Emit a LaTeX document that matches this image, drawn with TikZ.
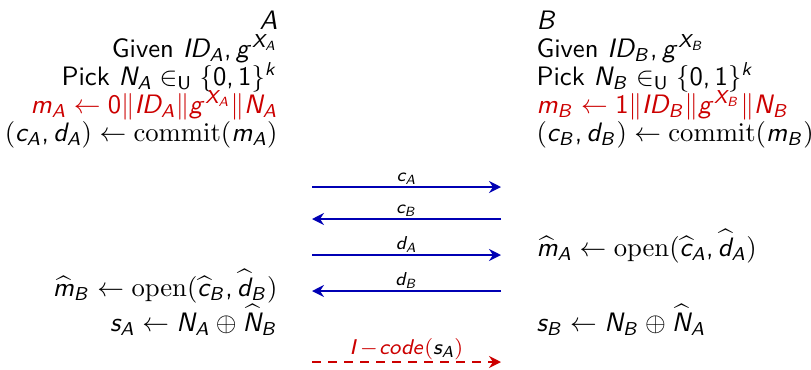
\documentclass[tikz,border=0pt]{standalone}
\usetikzlibrary{arrows.meta}
\renewcommand{\familydefault}{\sfdefault}
% sans math letters and digits, roman operator names
\DeclareSymbolFont{letters}{OT1}{cmss}{m}{sl}
\DeclareSymbolFont{sfop}{OT1}{cmss}{m}{n}
\DeclareMathSymbol{,}{\mathpunct}{sfop}{`,}
\DeclareMathSymbol{0}{\mathalpha}{sfop}{`0}
\DeclareMathSymbol{1}{\mathalpha}{sfop}{`1}
\definecolor{msgblue}{RGB}{0,0,180}
\definecolor{keyred}{RGB}{204,0,0}

\begin{document}
\begin{tikzpicture}[
        x=0.375pt, y=-0.375pt,
        leftrow/.style={anchor=base east, inner sep=0pt},
        rightrow/.style={anchor=base west, inner sep=0pt},
        msg/.style={-{Stealth[length=4.5pt, width=4.5pt, inset=1.5pt]}, thick, draw=msgblue},
        reveal/.style={-{Stealth[length=4.5pt, width=4.5pt, inset=1.5pt]}, thick, draw=keyred, dash pattern=on 3.5pt off 2.5pt},
        msglabel/.style={font=\scriptsize, above, inner sep=0.6pt}
    ]
        \useasboundingbox (0,0) rectangle (811,369);

        % party A
        \node[leftrow] (partyA) at (278,29) {$A$};
        \node[leftrow] (givenA) at (278,57) {Given $ID_A, g^{X_A}$};
        \node[leftrow] (pickA) at (278,85) {Pick $N_A \in_{\mathsf{U}} \{0,1\}^k$};
        \node[leftrow, text=keyred] (msgA) at (278,113) {$m_A \leftarrow 0\|ID_A\|g^{X_A}\|N_A$};
        \node[leftrow] (commitA) at (278,141) {$(c_A, d_A) \leftarrow \mathrm{commit}(m_A)$};
        \node[leftrow] (openA) at (278,296) {$\widehat{m}_B \leftarrow \mathrm{open}(\widehat{c}_B, \widehat{d}_B)$};
        \node[leftrow] (keyA) at (278,331) {$s_A \leftarrow N_A \oplus \widehat{N}_B$};

        % party B
        \node[rightrow] (partyB) at (536,29) {$B$};
        \node[rightrow] (givenB) at (536,57) {Given $ID_B, g^{X_B}$};
        \node[rightrow] (pickB) at (536,85) {Pick $N_B \in_{\mathsf{U}} \{0,1\}^k$};
        \node[rightrow, text=keyred] (msgB) at (536,113) {$m_B \leftarrow 1\|ID_B\|g^{X_B}\|N_B$};
        \node[rightrow] (commitB) at (536,141) {$(c_B, d_B) \leftarrow \mathrm{commit}(m_B)$};
        \node[rightrow] (openB) at (536,256) {$\widehat{m}_A \leftarrow \mathrm{open}(\widehat{c}_A, \widehat{d}_A)$};
        \node[rightrow] (keyB) at (536,331) {$s_B \leftarrow N_B \oplus \widehat{N}_A$};

        % message ends
        \coordinate (cAfrom) at (312,187);
        \coordinate (cAto) at (501,187);
        \coordinate (cBfrom) at (501,219);
        \coordinate (cBto) at (312,219);
        \coordinate (dAfrom) at (312,255);
        \coordinate (dAto) at (501,255);
        \coordinate (dBfrom) at (501,291);
        \coordinate (dBto) at (312,291);
        \coordinate (codeFrom) at (312,362);
        \coordinate (codeTo) at (501,362);

        \draw[msg] (cAfrom) -- (cAto) node[midway, msglabel] {$c_A$};
        \draw[msg] (cBfrom) -- (cBto) node[midway, msglabel] {$c_B$};
        \draw[msg] (dAfrom) -- (dAto) node[midway, msglabel] {$d_A$};
        \draw[msg] (dBfrom) -- (dBto) node[midway, msglabel] {$d_B$};
        \draw[reveal] (codeFrom) -- (codeTo) node[midway, msglabel, font=\footnotesize] {$\color{keyred}I\!-\!code(\color{black}s_A\color{keyred})$};
    \end{tikzpicture}
\end{document}
